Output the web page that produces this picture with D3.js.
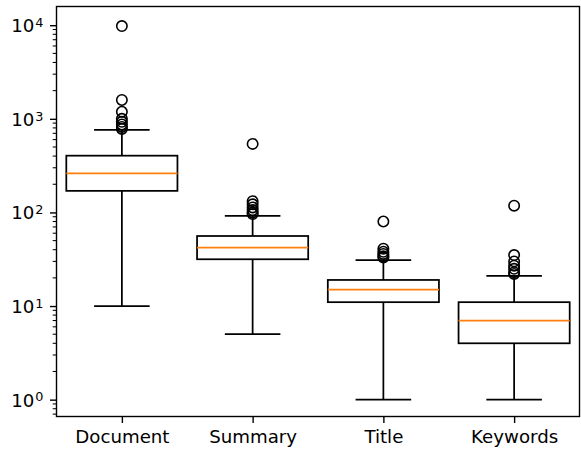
<!DOCTYPE html>
<html>
<head>
<meta charset="utf-8">
<script src="https://cdn.jsdelivr.net/npm/d3@7"></script>
<style>
  body { margin: 0; background: #fff; }
  text { font-family: "DejaVu Sans", sans-serif; }
</style>
</head>
<body>
<svg width="581" height="452"></svg>
<script>
// Data
const categories = ['Document', 'Summary', 'Title', 'Keywords'];
const q1 = [170, 31.6, 11, 4];
const median = [262, 42, 15, 7];
const q3 = [404, 56, 19, 11];
const whiskerLow = [10, 5, 1, 1];
const whiskerHigh = [760, 92, 31, 21];
const outliers = [
  [9800, 1590, 1190, 1000, 930, 870, 820, 780],
  [540, 132, 122, 113, 106, 100, 96],
  [80, 41, 38, 36, 34, 33],
  [118, 35, 30, 27, 25, 23, 22]
];
const yTicks = [1, 10, 100, 1000, 10000];

const svg = d3.select('svg');
const mLeft = 56.5, mRight = 579.5, mTop = 6.5, mBottom = 416.5;

const x = d3.scaleLinear().domain([0.5, 4.5]).range([mLeft, mRight]);
const y = d3.scaleLog().domain([Math.pow(10, -0.18), Math.pow(10, 4.2)]).range([mBottom, mTop]);

const boxW = 0.85, capW = 0.425;
const fontPx = '18.2px';

// y axis with superscript labels
const gy = svg.append('g').attr('transform', `translate(${mLeft},0)`);
gy.call(d3.axisLeft(y).tickValues(yTicks).tickSize(6.5).tickFormat(''));
gy.select('.domain').remove();
gy.selectAll('.tick line').attr('stroke', '#000').attr('stroke-width', 1.4);
gy.selectAll('.tick').each(function (d) {
  const t = d3.select(this).append('text')
    .attr('x', -13)
    .attr('dy', '0.36em')
    .attr('text-anchor', 'end')
    .attr('fill', '#000')
    .style('font-size', fontPx);
  t.append('tspan').text('10');
  t.append('tspan').attr('dx', '1').attr('dy', '-0.42em').style('font-size', '12.8px')
    .text(Math.round(Math.log10(d)));
});

// minor ticks
const minor = [];
[-1, 0, 1, 2, 3, 4].forEach(function (e) {
  for (let m = 2; m <= 9; m++) {
    const v = m * Math.pow(10, e);
    if (v >= y.domain()[0] && v <= y.domain()[1]) minor.push(v);
  }
});
svg.append('g').selectAll('line').data(minor).join('line')
  .attr('x1', mLeft).attr('x2', mLeft - 3.8)
  .attr('y1', d => y(d)).attr('y2', d => y(d))
  .attr('stroke', '#000').attr('stroke-width', 1.05);

// x axis
const gx = svg.append('g').attr('transform', `translate(0,${mBottom})`);
gx.call(d3.axisBottom(x).tickValues([1, 2, 3, 4]).tickSize(6.5)
  .tickFormat((d, i) => categories[i]));
gx.select('.domain').remove();
gx.selectAll('.tick line').attr('stroke', '#000').attr('stroke-width', 1.4);
gx.selectAll('.tick text').attr('fill', '#000').attr('y', 12).attr('dy', '0.8em')
  .style('font-size', fontPx);

// boxes
const boxes = svg.append('g').selectAll('g').data(categories).join('g');
boxes.each(function (c, i) {
  const g = d3.select(this);
  const p = i + 1;
  // whiskers
  g.append('line').attr('x1', x(p)).attr('x2', x(p))
    .attr('y1', y(q1[i])).attr('y2', y(whiskerLow[i]));
  g.append('line').attr('x1', x(p)).attr('x2', x(p))
    .attr('y1', y(q3[i])).attr('y2', y(whiskerHigh[i]));
  // caps
  g.append('line').attr('x1', x(p - capW / 2)).attr('x2', x(p + capW / 2))
    .attr('y1', y(whiskerLow[i])).attr('y2', y(whiskerLow[i]));
  g.append('line').attr('x1', x(p - capW / 2)).attr('x2', x(p + capW / 2))
    .attr('y1', y(whiskerHigh[i])).attr('y2', y(whiskerHigh[i]));
  g.selectAll('line').attr('stroke', '#000').attr('stroke-width', 1.75);
  // box
  g.append('rect')
    .attr('x', x(p - boxW / 2)).attr('y', y(q3[i]))
    .attr('width', x(p + boxW / 2) - x(p - boxW / 2))
    .attr('height', y(q1[i]) - y(q3[i]))
    .attr('fill', 'none').attr('stroke', '#000').attr('stroke-width', 1.75);
  // median
  g.append('line')
    .attr('x1', x(p - boxW / 2)).attr('x2', x(p + boxW / 2))
    .attr('y1', y(median[i])).attr('y2', y(median[i]))
    .attr('stroke', '#ff7f0e').attr('stroke-width', 1.75);
  // fliers
  g.selectAll('circle').data(outliers[i]).join('circle')
    .attr('cx', x(p)).attr('cy', d => y(d)).attr('r', 5.2)
    .attr('fill', 'none').attr('stroke', '#000').attr('stroke-width', 1.6);
});

// frame
svg.append('rect')
  .attr('x', mLeft).attr('y', mTop)
  .attr('width', mRight - mLeft).attr('height', mBottom - mTop)
  .attr('fill', 'none').attr('stroke', '#000').attr('stroke-width', 1.4);
</script>
</body>
</html>
